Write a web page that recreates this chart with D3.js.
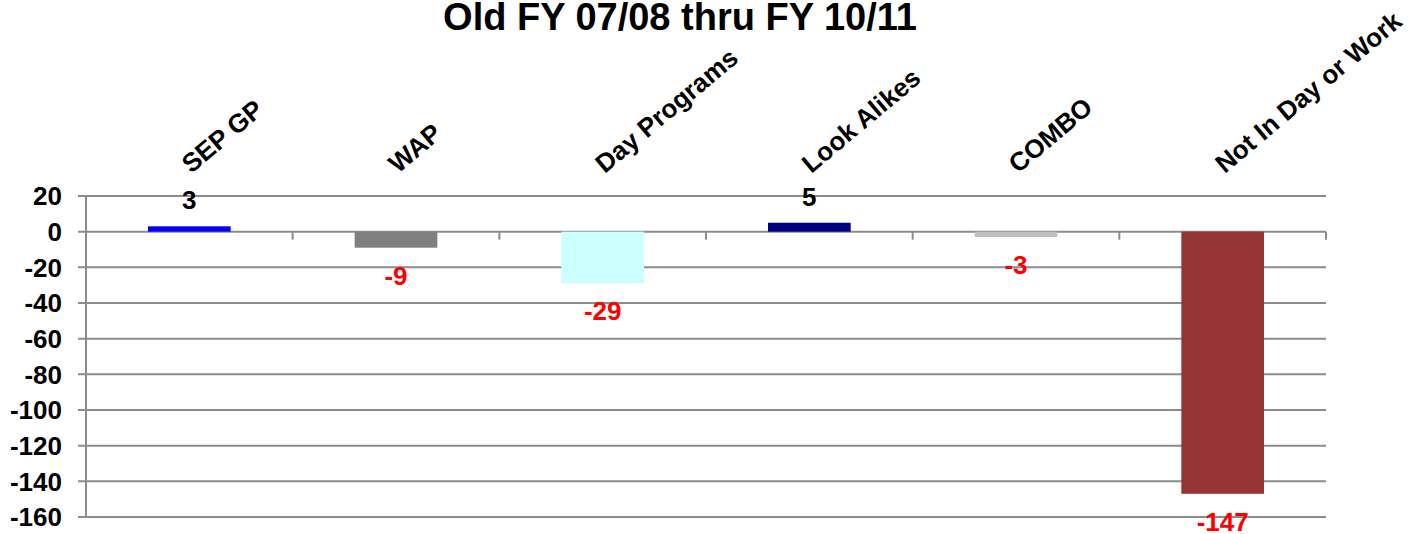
<!DOCTYPE html>
<html>
<head>
<meta charset="utf-8">
<script src="https://cdn.jsdelivr.net/npm/d3@7"></script>
<style>
  body { margin: 0; background: #fff; }
  text { font-family: "Liberation Sans", Arial, sans-serif; font-weight: bold; }
</style>
</head>
<body>
<script>
// data
var categories = ["SEP GP", "WAP", "Day Programs", "Look Alikes", "COMBO", "Not In Day or Work"];
var values = [3, -9, -29, 5, -3, -147];
var barColors = ["#0000FF", "#808080", "#CCFFFF", "#000080", "#C0C0C0", "#963634"];
var yTicks = [20, 0, -20, -40, -60, -80, -100, -120, -140, -160];
var title = "Old FY 07/08 thru FY 10/11";

var width = 1428;
var height = 534;

var svg = d3.select("body").append("svg")
    .attr("width", width)
    .attr("height", height)

var plotLeft = 86, plotRight = 1326, plotTop = 196, plotBottom = 517;

var x = d3.scaleBand()
    .domain(categories)
    .range([plotLeft, plotRight])
    .paddingInner(0.6)
    .paddingOuter(0.3)

var y = d3.scaleLinear()
    .domain([-160, 20])
    .range([plotBottom, plotTop])

// title
svg.append("text")
    .attr("x", 680)
    .attr("y", 30)
    .attr("text-anchor", "middle")
    .style("font-size", "38px")
    .text(title)

// gridlines (extend left of axis as tick marks)
svg.selectAll("line.grid")
    .data(yTicks)
    .enter()
    .append("line")
    .attr("class", "grid")
    .attr("x1", plotLeft - 8)
    .attr("x2", plotRight)
    .attr("y1", d => y(d))
    .attr("y2", d => y(d))
    .attr("stroke", "#8c8c8c")
    .attr("stroke-width", 2)

// y axis line
svg.append("line")
    .attr("x1", plotLeft).attr("x2", plotLeft)
    .attr("y1", plotTop).attr("y2", plotBottom)
    .attr("stroke", "#8c8c8c")
    .attr("stroke-width", 2)

// y tick labels
svg.selectAll("text.ytick")
    .data(yTicks)
    .enter()
    .append("text")
    .attr("class", "ytick")
    .attr("x", 62)
    .attr("y", d => y(d))
    .attr("dy", "0.36em")
    .attr("text-anchor", "end")
    .style("font-size", "26px")
    .text(d => d)

// category boundary ticks on the zero line
var boundaries = d3.range(1, categories.length + 1).map(i => plotLeft + i * (plotRight - plotLeft) / categories.length);
svg.selectAll("line.ctick")
    .data(boundaries)
    .enter()
    .append("line")
    .attr("x1", d => d).attr("x2", d => d)
    .attr("y1", y(0)).attr("y2", y(0) + 8)
    .attr("stroke", "#8c8c8c")
    .attr("stroke-width", 2)

// bars
svg.selectAll("rect.bar")
    .data(values)
    .enter()
    .append("rect")
    .attr("class", "bar")
    .attr("x", (d, i) => x(categories[i]))
    .attr("width", x.bandwidth())
    .attr("y", d => y(Math.max(0, d)))
    .attr("height", d => Math.abs(y(d) - y(0)))
    .attr("fill", (d, i) => barColors[i])

// value labels
svg.selectAll("text.val")
    .data(values)
    .enter()
    .append("text")
    .attr("class", "val")
    .attr("x", (d, i) => x(categories[i]) + x.bandwidth() / 2)
    .attr("y", d => d >= 0 ? y(d) - 17 : y(d) + 37)
    .attr("text-anchor", "middle")
    .attr("fill", d => d >= 0 ? "#000" : "#FF0000")
    .style("font-size", "26px")
    .text(d => d)

// rotated category labels
svg.selectAll("text.cat")
    .data(categories)
    .enter()
    .append("text")
    .attr("class", "cat")
    .attr("transform", d => "translate(" + (x(d) + x.bandwidth() / 2 + 2) + ",174) rotate(-40)")
    .style("font-size", "26px")
    .text(d => d)
</script>
</body>
</html>
